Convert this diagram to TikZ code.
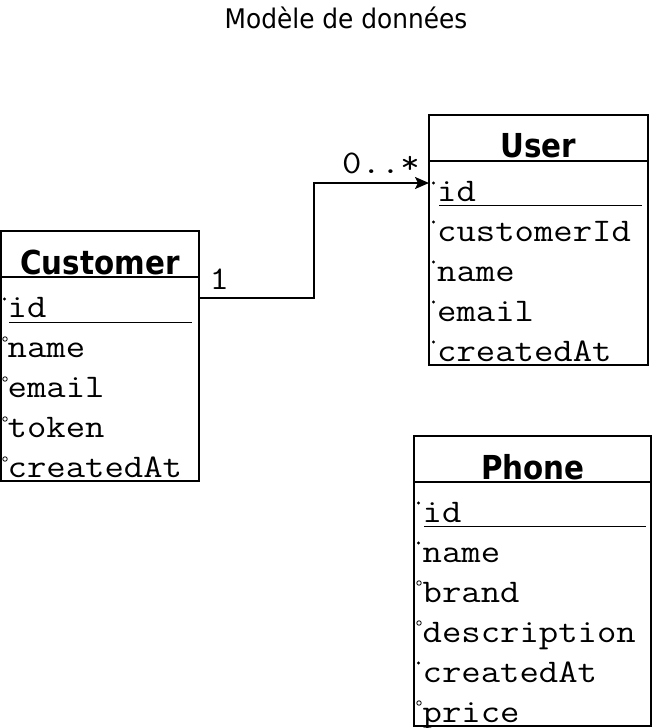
\documentclass[tikz,border=0pt]{standalone}
\usepackage{fontspec}
\usepackage{graphicx}
\setmainfont{DejaVu Sans}
\newfontfamily\titlefont[FakeStretch=0.92]{DejaVu Sans}
\newfontfamily\headfont[FakeStretch=0.89]{DejaVu Sans}
\newcommand{\mytt}[1]{\scalebox{1.14}[1]{\ttfamily\fontsize{33}{35}\selectfont #1}}
\usetikzlibrary{arrows.meta}
\tikzset{
  box/.style={draw, line width=2pt, inner sep=0pt, outer sep=0pt, anchor=north west},
  attr/.style={anchor=base west, inner sep=0pt},
  head/.style={anchor=base, inner sep=0pt, font=\headfont\bfseries\fontsize{33}{36}\selectfont},
  ttl/.style={anchor=base, inner sep=0pt, font=\titlefont\fontsize{27}{30}\selectfont},
  fdot/.style={fill, circle, inner sep=0pt, minimum size=3.3pt},
  odot/.style={draw, circle, inner sep=0pt, minimum size=4.5pt, line width=0.8pt},
  sep/.style={line width=2pt},
  uline/.style={line width=1pt},
  conn/.style={line width=2pt, -{Stealth[length=14pt,width=12pt,inset=3pt]}}
}
\begin{document}
\begin{tikzpicture}[x=1pt,y=-1pt]
\useasboundingbox (0,0) rectangle (653,728);
\node[ttl] (title) at (346,28) {Modèle de données};

% Customer
\node[box, minimum width=198pt, minimum height=250pt] (customer) at (1,231) {};
\node[head] (customerh) at (100,274) {Customer};
\draw[sep] (customer.west |- 0,277) -- (customer.east |- 0,277);
\node[attr] (c1) at (7.5,317) {\mytt{id}};
\node[attr] (c2) at (7.5,357) {\mytt{name}};
\node[attr] (c3) at (7.5,397) {\mytt{email}};
\node[attr] (c4) at (7.5,437) {\mytt{token}};
\node[attr] (c5) at (7.5,477) {\mytt{createdAt}};
\draw[uline] (9,322) -- (192,322);
\node[fdot] (cm1) at (4.5,299) {};
\node[odot] (cm2) at (5,339) {};
\node[odot] (cm3) at (5,379) {};
\node[odot] (cm4) at (5,419) {};
\node[odot] (cm5) at (5,459) {};

% User
\node[box, minimum width=219pt, minimum height=250pt] (user) at (429,115) {};
\node[head] (userh) at (538.5,157) {User};
\draw[sep] (user.west |- 0,161) -- (user.east |- 0,161);
\node[attr] (u1) at (437,201) {\mytt{id}};
\node[attr] (u2) at (437,241) {\mytt{customerId}};
\node[attr] (u3) at (437,281) {\mytt{name}};
\node[attr] (u4) at (437,321) {\mytt{email}};
\node[attr] (u5) at (437,361) {\mytt{createdAt}};
\draw[uline] (439,205.5) -- (642,205.5);
\node[fdot] (um1) at (433.5,183) {};
\node[fdot] (um2) at (433.5,222) {};
\node[fdot] (um3) at (433.5,262) {};
\node[fdot] (um4) at (433.5,302) {};
\node[fdot] (um5) at (433.5,342) {};

% Phone
\node[box, minimum width=237pt, minimum height=290pt] (phone) at (414,436) {};
\node[head] (phoneh) at (533,479) {Phone};
\draw[sep] (phone.west |- 0,482) -- (phone.east |- 0,482);
\node[attr] (p1) at (422.5,522) {\mytt{id}};
\node[attr] (p2) at (422.5,562) {\mytt{name}};
\node[attr] (p3) at (422.5,602) {\mytt{brand}};
\node[attr] (p4) at (422.5,642) {\mytt{description}};
\node[attr] (p5) at (422.5,682) {\mytt{createdAt}};
\node[attr] (p6) at (422.5,722) {\mytt{price}};
\draw[uline] (424,526.5) -- (646,526.5);
\node[fdot] (pm1) at (418.5,503) {};
\node[fdot] (pm2) at (418.5,543) {};
\node[odot] (pm3) at (419,583) {};
\node[odot] (pm4) at (419,623) {};
\node[fdot] (pm5) at (418.5,663) {};
\node[odot] (pm6) at (419,703) {};

% Association
\draw[conn] ([yshift=-67pt]customer.north east) -- ++(115,0) |- ([yshift=-68pt]user.north west);
\node[attr] (m1) at (209.5,289) {\mytt{1}};
\node[attr] (m2) at (342,173) {\mytt{0..*}};
\end{tikzpicture}
\end{document}
